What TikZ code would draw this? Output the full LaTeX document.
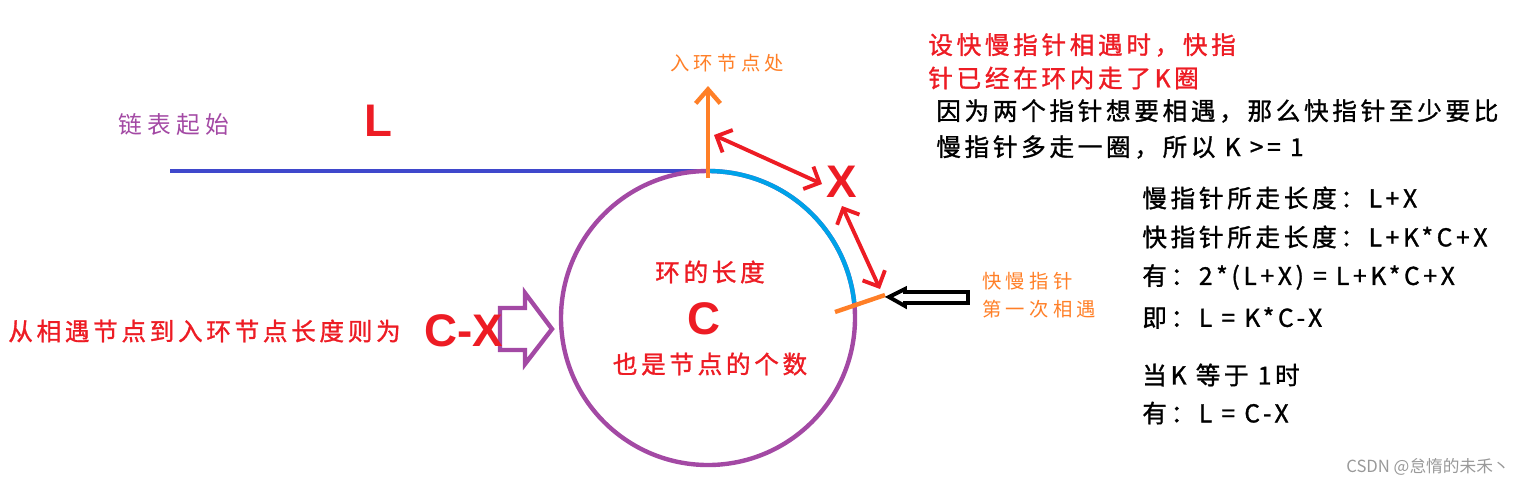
\documentclass[tikz,border=0pt]{standalone}
\usepackage{fontspec}
\newfontfamily\cjk{Noto Sans CJK SC}[LetterSpace=15,FakeBold=1.2]
\newfontfamily\cjks{Noto Sans CJK SC}[LetterSpace=22]
\newfontfamily\cjkw{Noto Sans CJK SC}
\newfontfamily\lat{Liberation Sans}
\definecolor{cred}{RGB}{237,28,36}
\definecolor{corange}{RGB}{255,127,39}
\definecolor{cpurple}{RGB}{163,73,164}
\definecolor{cblue}{RGB}{63,72,204}
\definecolor{ccyan}{RGB}{0,162,232}
\usetikzlibrary{arrows.meta}
\tikzset{
 t/.style={font=\cjk\fontsize{14}{16}\selectfont, inner sep=0pt},
 ts/.style={font=\cjks\fontsize{11}{13}\selectfont, text=corange, inner sep=0pt},
 big/.style={font=\lat\bfseries\fontsize{26}{28}\selectfont, text=cred, inner sep=0pt},
 dbl/.style={cred, line width=2.2pt, <->, >={Straight Barb[length=7pt,width=14pt]}}
}
\begin{document}
\begin{tikzpicture}[x=0.02cm,y=-0.02cm]
\useasboundingbox (0,0) rectangle (1521,485);
% lines
\coordinate (s) at (170,171);
\coordinate (top) at (708,171);
\draw[cblue, line width=2.5pt] (s) -- (top);
\draw[cpurple, line width=2.5pt] (708,318) circle (147);
\draw[ccyan, line width=2.5pt] (top) arc (270:354:147);
\coordinate (up) at (708,86);
\draw[corange, line width=2.5pt, -{Straight Barb[length=8pt,width=14pt]}] (708,178) -- (up);
\coordinate (m1) at (835,312); \coordinate (m2) at (885,295);
\draw[corange, line width=2.5pt] (m1) -- (m2);
% red arrows
\coordinate (a1) at (714,135); \coordinate (a2) at (822,184);
\draw[dbl] (a1) -- (a2);
\coordinate (b1) at (842,206); \coordinate (b2) at (880,289);
\draw[dbl] (b1) -- (b2);
% black hollow arrow
\draw[black, line width=2.2pt, line join=miter] (889,297) -- (905,289) -- (905,292) -- (968,292) -- (968,303) -- (905,303) -- (905,306) -- cycle;
% purple hollow arrow
\draw[cpurple, line width=2.5pt] (500,308) -- (525,308) -- (525,293) -- (552,329) -- (525,364) -- (525,350) -- (500,350) -- cycle;
% texts
\node[t, text=cpurple, anchor=west, font=\cjks\fontsize{13.5}{15}\selectfont] (lb) at (118,125) {链表起始};
\node[big] (L) at (378,121) {L};
\node[ts, anchor=west] (rk) at (670,63) {入环节点处};
\node[big] (X) at (842,182) {X};
\node[t, text=cred, anchor=west] (k1) at (928,45) {设快慢指针相遇时，快指};
\node[t, text=cred, anchor=west] (k2) at (928,78) {针已经在环内走了K圈};
\node[t, anchor=west] (y1) at (936,111) {因为两个指针想要相遇，那么快指针至少要比};
\node[t, anchor=west] (y2) at (936,147) {慢指针多走一圈，所以 K >= 1};
\node[t, text=cred] (r1) at (710,272) {环的长度};
\node[big] (C) at (704,319) {C};
\node[t, text=cred] (r2) at (710,364) {也是节点的个数};
\node[ts, anchor=west] (f1) at (982,281) {快慢指针};
\node[ts, anchor=west] (f2) at (982,309) {第一次相遇};
\node[t, text=cred, anchor=west] (cx) at (8,331) {从相遇节点到入环节点长度则为};
\node[big, anchor=west] (CX) at (424,331) {C-X};
\node[t, anchor=west] (e1) at (1142,198) {慢指针所走长度：L+X};
\node[t, anchor=west] (e2) at (1142,237) {快指针所走长度：L+K*C+X};
\node[t, anchor=west] (e3) at (1142,277) {有：2*(L+X) = L+K*C+X};
\node[t, anchor=west] (e4) at (1142,318) {即：L = K*C-X};
\node[t, anchor=west] (e5) at (1142,375) {当K 等于 1时};
\node[t, anchor=west] (e6) at (1142,413) {有：L = C-X};
\node[anchor=east, text=gray!80, font=\cjkw\fontsize{9.5}{11}\selectfont, inner sep=0pt] (w) at (1510,467) {CSDN @怠惰的未禾丶};
\end{tikzpicture}
\end{document}
